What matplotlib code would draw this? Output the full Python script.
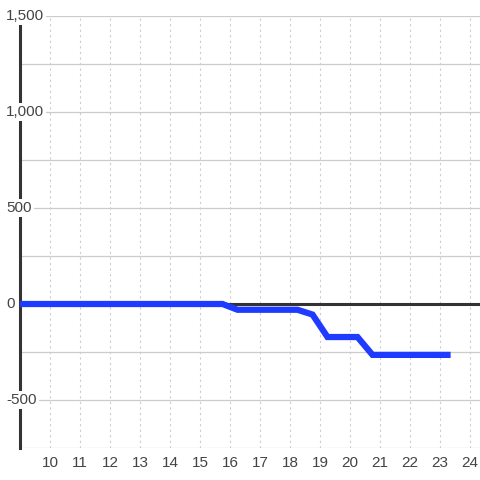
import matplotlib
matplotlib.use("Agg")
import matplotlib.pyplot as plt

# series
x_vals = [9, 15.75, 16.25, 18.25, 18.75, 19.25, 20.25, 20.75, 23.25]
y_vals = [0, 0, -30, -30, -55, -172, -172, -265, -265]

x_ticks = list(range(10, 25))
y_ticks = [-500, 0, 500, 1000, 1500]
y_grid = [-750, -500, -250, 0, 250, 500, 750, 1000, 1250, 1500]

plt.rcParams['font.family'] = ['Liberation Sans', 'DejaVu Sans']

fig = plt.figure(figsize=(4.8, 4.8), dpi=100)
ax = fig.add_axes([20/480, 32/480, 460/480, 432/480])
ax.set_xlim(9, 9 + 460/30)
ax.set_ylim(-750, 1500)

for s in ['top', 'right', 'bottom']:
    ax.spines[s].set_visible(False)
ax.spines['left'].set_color('#333333')
ax.spines['left'].set_linewidth(2.2)
ax.spines['left'].set_zorder(2)

# grid
for g in y_grid:
    ax.axhline(g, color='#cccccc', lw=0.9, zorder=1)
for t in x_ticks:
    ax.axvline(t, color='#cccccc', lw=0.8, ls=(0, (2, 3)), zorder=1)

ax.axhline(0, color='#333333', lw=2.2, zorder=2)
ax.plot(x_vals, y_vals, color='#1f3bff', lw=4.5, solid_joinstyle='miter', zorder=3)

ax.set_xticks(x_ticks)
ax.tick_params(axis='x', length=0, pad=6, labelsize=11, labelcolor='#444444')
ax.set_yticks([])

for v in y_ticks:
    ax.text(-14/460, v, f"{v:,}", transform=ax.get_yaxis_transform(),
            ha='left', va='center', fontsize=11, color='#444444', zorder=2.5,
            bbox=dict(facecolor='white', edgecolor='none', pad=1.5))

fig.savefig('out.png', dpi=100)
